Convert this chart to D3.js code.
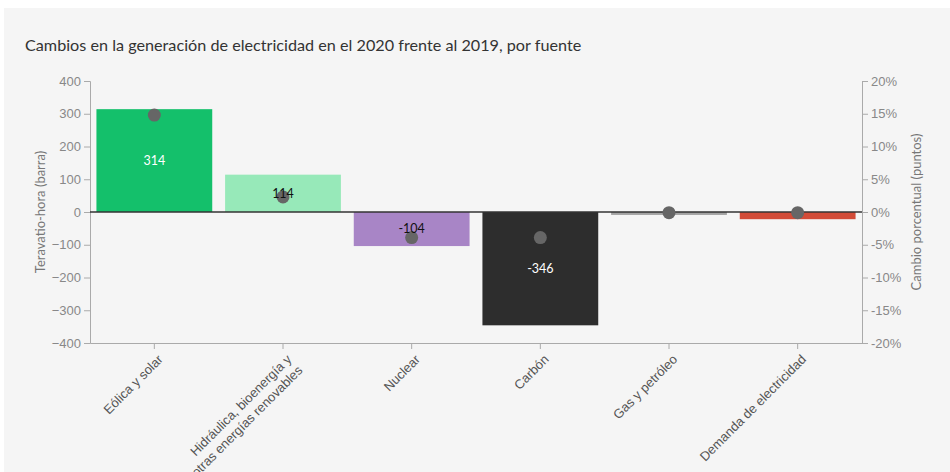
<!DOCTYPE html>
<html>
<head>
<meta charset="utf-8">
<script src="https://cdn.jsdelivr.net/npm/d3@7"></script>
<style>
  html, body { margin: 0; padding: 0; background: #fff; }
  svg { display: block; font-family: Lato, "Noto Sans", sans-serif; }
</style>
</head>
<body>
<div id="chart"></div>
<script>
// data
const categories = [
  "Eólica y solar",
  "Hidráulica, bioenergía y\notras energías renovables",
  "Nuclear",
  "Carbón",
  "Gas y petróleo",
  "Demanda de electricidad"
];
const twhValues = [314, 114, -104, -346, -9, -22];     // bars, TWh
const pctValues = [14.8, 2.3, -3.9, -3.9, -0.1, -0.1];  // dots, percentage points
const leftTicks = [-400, -300, -200, -100, 0, 100, 200, 300, 400];
const rightTicks = [-20, -15, -10, -5, 0, 5, 10, 15, 20];

const barColors = ["#14c06b", "#97e9b9", "#a885c6", "#2d2d2d", "#a3a3a3", "#d24b37"];

const width = 950;
const height = 472;
const margin = { top: 81, right: 88, bottom: 129, left: 90 };

const svg = d3.select("#chart")
  .append("svg")
  .attr("width", width)
  .attr("height", height);

// panel background
svg.append("rect")
  .attr("x", 4)
  .attr("y", 8)
  .attr("width", width - 4)
  .attr("height", height - 8)
  .attr("fill", "#f5f5f5");

svg.append("text")
  .attr("x", 25)
  .attr("y", 51)
  .style("font-size", "16.2px")
  .style("fill", "#333")
  .text("Cambios en la generación de electricidad en el 2020 frente al 2019, por fuente");

const x = d3.scaleBand()
  .domain(categories)
  .range([margin.left, width - margin.right])
  .paddingInner(0.1)
  .paddingOuter(0.05);

const y = d3.scaleLinear()
  .domain([-400, 400])
  .range([height - margin.bottom, margin.top]);

const yPct = d3.scaleLinear()
  .domain([-20, 20])
  .range([height - margin.bottom, margin.top]);

const rows = categories.map((c, i) => ({
  cat: c, twh: twhValues[i], pct: pctValues[i], color: barColors[i]
}));

// axes
function styleAxis(g) {
  g.select(".domain").attr("stroke", "#aaa");
  g.selectAll(".tick line").attr("stroke", "#aaa");
  g.selectAll(".tick text").style("font-size", "13px").attr("fill", "#888");
}

svg.append("g")
  .attr("transform", `translate(${margin.left},0)`)
  .call(d3.axisLeft(y).tickValues(leftTicks).tickSizeOuter(6))
  .call(styleAxis);

svg.append("g")
  .attr("transform", `translate(${width - margin.right},0)`)
  .call(d3.axisRight(yPct).tickValues(rightTicks).tickFormat(d => d + "%").tickSizeOuter(6))
  .call(styleAxis);

const xAxis = svg.append("g")
  .attr("transform", `translate(0,${height - margin.bottom})`)
  .call(d3.axisBottom(x).tickSizeOuter(0).tickFormat(""))
  .call(styleAxis);

xAxis.selectAll(".tick").each(function (d) {
  const lines = d.split("\n");
  const t = d3.select(this).append("text")
    .attr("transform", "translate(6,14) rotate(-45)")
    .attr("text-anchor", "end")
    .style("font-size", "13px")
    .attr("fill", "#555");
  lines.forEach((ln, k) => {
    t.append("tspan")
      .attr("x", 0)
      .attr("dy", k === 0 ? "0.35em" : "1.2em")
      .text(ln);
  });
});

// axis titles
svg.append("text")
  .attr("transform", `translate(45,${y(0)}) rotate(-90)`)
  .attr("text-anchor", "middle")
  .style("font-size", "13px")
  .attr("fill", "#777")
  .text("Teravatio-hora (barra)");

svg.append("text")
  .attr("transform", `translate(921,${y(0)}) rotate(-90)`)
  .attr("text-anchor", "middle")
  .style("font-size", "13px")
  .attr("fill", "#777")
  .text("Cambio porcentual (puntos)");

// bars
svg.selectAll(".bar")
  .data(rows)
  .enter()
  .append("rect")
  .attr("class", "bar")
  .attr("x", d => x(d.cat))
  .attr("y", d => y(Math.max(0, d.twh)))
  .attr("width", x.bandwidth())
  .attr("height", d => Math.abs(y(d.twh) - y(0)))
  .attr("fill", d => d.color);

// zero line
svg.append("line")
  .attr("x1", margin.left)
  .attr("x2", width - margin.right)
  .attr("y1", y(0))
  .attr("y2", y(0))
  .attr("stroke", "#333")
  .attr("stroke-width", 1.5);

// dots
svg.selectAll(".dot")
  .data(rows)
  .enter()
  .append("circle")
  .attr("class", "dot")
  .attr("cx", d => x(d.cat) + x.bandwidth() / 2)
  .attr("cy", d => yPct(d.pct))
  .attr("r", 6.5)
  .attr("fill", "#666");

// value labels (only where the bar is tall enough)
svg.selectAll(".label")
  .data(rows.filter(d => Math.abs(d.twh) >= 50))
  .enter()
  .append("text")
  .attr("class", "label")
  .attr("x", d => x(d.cat) + x.bandwidth() / 2)
  .attr("y", d => (y(d.twh) + y(0)) / 2)
  .attr("dy", "0.35em")
  .attr("text-anchor", "middle")
  .style("font-size", "12.5px")
  .attr("fill", d => d3.hsl(d.color).l > 0.6 ? "#111" : "#fff")
  .text(d => d.twh);
</script>
</body>
</html>
